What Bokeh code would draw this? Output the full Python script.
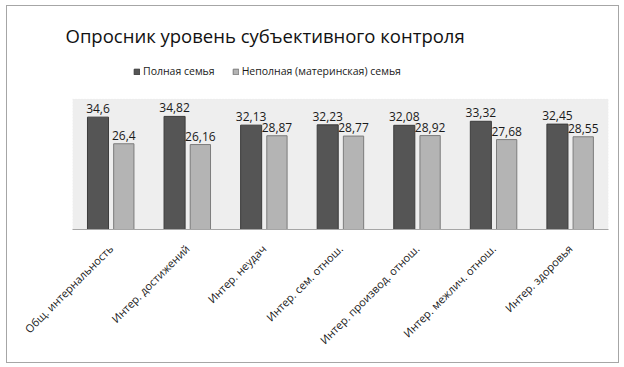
import math
from bokeh.plotting import figure
from bokeh.models import (ColumnDataSource, FactorRange, Range1d, Legend, LegendItem,
                          LabelSet, BoxAnnotation)
from bokeh.transform import dodge
from bokeh.core.properties import value
from bokeh.embed import file_html
from bokeh.resources import INLINE

title_text = "Опросник уровень субъективного контроля"
categories = ["Общ. интернальность", "Интер. достижений", "Интер. неудач",
              "Интер. сем. отнош.", "Интер. производ. отнош.", "Интер. межлич. отнош.",
              "Интер. здоровья"]
series_names = ["Полная семья", "Неполная (материнская) семья"]
full_family = [34.6, 34.82, 32.13, 32.23, 32.08, 33.32, 32.45]
single_family = [26.4, 26.16, 28.87, 28.77, 28.92, 27.68, 28.55]

PLOT_TOP = 40.2      # top of the grey plot area (value units)
FRAME_TOP = 54.5     # frame extends above plot area to host the legend


def fmt(v):
    return ("%g" % v).replace(".", ",")


src = ColumnDataSource(dict(
    cat=categories,
    full=full_family,
    single=single_family,
    full_lbl=[fmt(v) for v in full_family],
    single_lbl=[fmt(v) for v in single_family],
))

FONT = "Open Sans"

p = figure(x_range=FactorRange(*categories, range_padding=0),
           y_range=Range1d(0, FRAME_TOP),
           width=613, height=358,
           output_backend="svg", toolbar_location=None,
           min_border_left=65, min_border_right=12,
           min_border_top=46, min_border_bottom=135)

p.background_fill_color = "white"
p.border_fill_color = "white"
p.outline_line_color = None
p.styles = {"border": "1px solid #a6a6a6", "margin-left": "6px", "margin-top": "5px"}

p.add_layout(BoxAnnotation(bottom=0, top=PLOT_TOP, fill_color="#eeeeee", fill_alpha=1,
                           line_color="#e2e2e2", line_dash="1 2", level="underlay"))

dark = p.vbar(x=dodge("cat", -0.167, range=p.x_range), top="full", width=0.275,
              source=src, fill_color="#555555", line_color="#3c3c3c", line_width=1)
light = p.vbar(x=dodge("cat", 0.17, range=p.x_range), top="single", width=0.265,
               source=src, fill_color="#b4b4b4", line_color="#7c7c7c", line_width=1)

for xoff, col, lbl in [(-0.167, "full", "full_lbl"), (0.17, "single", "single_lbl")]:
    ls = LabelSet(x=dodge("cat", xoff, range=p.x_range), y=col, text=lbl, source=src,
                  y_offset=4, text_align="center", text_baseline="bottom",
                  text_font=value(FONT), text_font_size="12px", text_color="#1a1a1a")
    p.add_layout(ls)

p.title.text = title_text
p.title.align = "left"
p.title.offset = -7
p.title.standoff = 10
p.title.text_font = FONT
p.title.text_font_size = "18.5px"
p.title.text_font_style = "normal"
p.title.text_color = "#111111"

legend = Legend(items=[LegendItem(label=series_names[0], renderers=[dark]),
                       LegendItem(label=series_names[1], renderers=[light])],
                orientation="horizontal", location=(61, 151),
                glyph_width=7, glyph_height=7, label_standoff=3, spacing=17,
                label_text_font=FONT, label_text_font_size="10.5px",
                label_text_color="#1a1a1a",
                border_line_color=None, background_fill_alpha=0,
                padding=0, margin=0, label_height=12)
p.add_layout(legend)

p.yaxis.visible = False
p.xgrid.grid_line_color = None
p.ygrid.grid_line_color = None
p.xaxis.major_tick_line_color = None
p.xaxis.minor_tick_line_color = None
p.xaxis.axis_line_color = "#a6a6a6"
p.xaxis.major_label_orientation = math.pi / 4
p.xaxis.major_label_standoff = 11
p.xaxis.major_label_text_font = FONT
p.xaxis.major_label_text_font_size = "11px"
p.xaxis.major_label_text_color = "#1a1a1a"

open("out.html", "w").write(file_html(p, INLINE))
